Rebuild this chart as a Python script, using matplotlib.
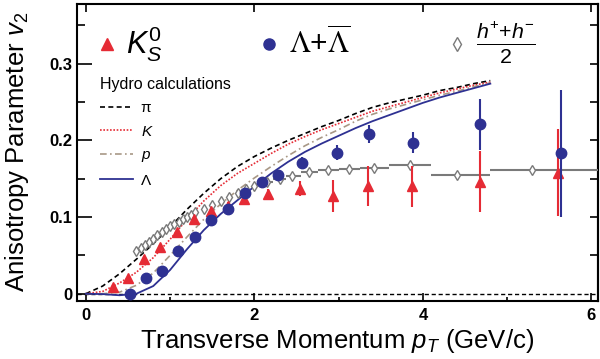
"""v2 vs pT: K0s, Lambda, charged hadrons with hydro curves."""
import matplotlib.pyplot as plt
from matplotlib.lines import Line2D

plt.rcParams['font.family'] = ['Liberation Sans', 'DejaVu Sans']
plt.rcParams['mathtext.fontset'] = 'custom'
plt.rcParams['mathtext.rm'] = 'Liberation Sans'
plt.rcParams['mathtext.it'] = 'Liberation Sans:italic'
plt.rcParams['mathtext.bf'] = 'Liberation Sans:bold'

# K0s data
k0s_pt = [0.32, 0.5, 0.69, 0.88, 1.08, 1.28, 1.48, 1.69, 1.88, 2.16, 2.54, 2.93, 3.35, 3.87, 4.68, 5.6]
k0s_v2 = [0.009, 0.02, 0.045, 0.061, 0.081, 0.097, 0.108, 0.115, 0.124, 0.13, 0.137, 0.127, 0.14, 0.14, 0.146, 0.158]
k0s_err = [0.002, 0.002, 0.002, 0.003, 0.003, 0.003, 0.003, 0.004, 0.004, 0.006, 0.01, 0.021, 0.026, 0.027, 0.04, 0.057]

# Lambda + anti-Lambda data
lam_pt = [0.53, 0.71, 0.90, 1.09, 1.29, 1.48, 1.69, 1.89, 2.09, 2.28, 2.57, 2.98, 3.36, 3.88, 4.68, 5.64]
lam_v2 = [-0.001, 0.02, 0.03, 0.056, 0.074, 0.096, 0.111, 0.132, 0.146, 0.155, 0.171, 0.184, 0.208, 0.197, 0.221, 0.183]
lam_err = [0.005, 0.003, 0.005, 0.004, 0.004, 0.004, 0.004, 0.004, 0.004, 0.005, 0.007, 0.01, 0.012, 0.014, 0.033, 0.083]

# charged hadrons (h+ + h-)/2
h_pt = [0.6, 0.65, 0.7, 0.75, 0.8, 0.85, 0.9, 0.95, 1.0, 1.05, 1.1, 1.15, 1.2, 1.25, 1.3,
        1.4, 1.5, 1.6, 1.7, 1.8, 1.9, 2.0,
        2.15, 2.3, 2.45, 2.65, 2.87, 3.12, 3.42, 3.85, 4.4, 5.3]
h_v2 = [0.056, 0.06, 0.064, 0.068, 0.072, 0.076, 0.08, 0.084, 0.088, 0.091, 0.094, 0.097, 0.1, 0.103, 0.106,
        0.111, 0.116, 0.121, 0.126, 0.131, 0.136, 0.14,
        0.146, 0.15, 0.154, 0.159, 0.162, 0.163, 0.164, 0.168, 0.155, 0.161]
h_xerr_lo = [0] * 22 + [0.075, 0.075, 0.075, 0.1, 0.12, 0.12, 0.17, 0.25, 0.3, 0.5]
h_xerr_hi = [0] * 22 + [0.075, 0.075, 0.1, 0.1, 0.13, 0.13, 0.18, 0.25, 0.4, 0.8]

# hydro calculations
hydro_pt = [0.0, 0.2, 0.4, 0.6, 0.8, 1.0, 1.2, 1.4, 1.6, 1.8, 2.0, 2.2, 2.4, 2.6, 2.8,
            3.0, 3.2, 3.4, 3.6, 3.8, 4.0, 4.2, 4.4, 4.6, 4.8]
hydro_pi = [0.0, 0.010, 0.026, 0.045, 0.065, 0.087, 0.110, 0.131, 0.150, 0.166, 0.179, 0.190, 0.200, 0.209, 0.218,
            0.226, 0.235, 0.243, 0.249, 0.254, 0.259, 0.265, 0.269, 0.274, 0.278]
hydro_k = [0.0, 0.003, 0.014, 0.028, 0.047, 0.071, 0.097, 0.121, 0.141, 0.157, 0.170, 0.183, 0.195, 0.205, 0.214,
           0.222, 0.230, 0.238, 0.244, 0.250, 0.256, 0.262, 0.267, 0.272, 0.276]
hydro_p = [0.0, 0.0, 0.002, 0.011, 0.027, 0.050, 0.074, 0.097, 0.117, 0.135, 0.151, 0.166, 0.180, 0.193, 0.204,
           0.214, 0.225, 0.234, 0.241, 0.247, 0.253, 0.259, 0.264, 0.270, 0.275]
hydro_lam = [0.0, -0.0005, -0.002, 0.0, 0.010, 0.031, 0.058, 0.083, 0.104, 0.122, 0.140, 0.157, 0.172, 0.185, 0.196,
             0.206, 0.216, 0.225, 0.233, 0.241, 0.249, 0.256, 0.262, 0.268, 0.274]

red = '#e52b35'
navy = '#2e3192'
gray = '#7a7a7a'
tan = '#a89886'

fig = plt.figure(figsize=(6, 3.59), dpi=100)
ax = fig.add_axes([0.128, 0.1624, 0.869, 0.8266])

ax.axhline(0, color='black', ls=(0, (3, 2)), lw=1.0, zorder=1)
l_pi, = ax.plot(hydro_pt, hydro_pi, color='black', ls=(0, (3, 2)), lw=1.2, zorder=2)
l_k, = ax.plot(hydro_pt, hydro_k, color=red, ls=(0, (1, 1)), lw=1.2, zorder=2)
l_p, = ax.plot(hydro_pt, hydro_p, color=tan, ls=(0, (4, 2, 1, 2)), lw=1.2, zorder=2)
l_lam, = ax.plot(hydro_pt, hydro_lam, color=navy, lw=1.3, zorder=2)

ax.errorbar(h_pt, h_v2, xerr=[h_xerr_lo, h_xerr_hi], fmt='d', ms=5.5, mfc='white', mec=gray, mew=1.0,
            ecolor=gray, elinewidth=1.5, capsize=0, zorder=3)
ax.errorbar(k0s_pt, k0s_v2, yerr=k0s_err, fmt='^', ms=7.5, color=red, elinewidth=1.5, capsize=0, zorder=4)
ax.errorbar(lam_pt, lam_v2, yerr=lam_err, fmt='o', ms=7.5, color=navy, elinewidth=1.5, capsize=0, zorder=5)

ax.set_xlim(-0.107, 6.08)
ax.set_ylim(-0.0091, 0.378)
ax.set_xticks([0, 2, 4, 6])
ax.set_xticks([1, 3, 5], minor=True)
ax.set_yticks([0, 0.1, 0.2, 0.3], ['0', '0.1', '0.2', '0.3'])
ax.set_yticks([0.05, 0.15, 0.25, 0.35], minor=True)
ax.tick_params(axis='x', which='major', direction='in', length=6, width=1.2, labelsize=12, pad=5, top=True)
ax.tick_params(axis='x', which='minor', direction='in', length=3, width=1.2, top=False)
ax.tick_params(axis='y', which='major', direction='in', length=11, width=1.2, labelsize=12, pad=3)
ax.tick_params(axis='y', which='minor', direction='in', length=6, width=1.2)
for lab in ax.get_xticklabels() + ax.get_yticklabels():
    lab.set_fontweight('bold')
for sp in ax.spines.values():
    sp.set_linewidth(1.5)

sec = ax.secondary_yaxis('right')
sec.set_yticks([0.05, 0.1, 0.15, 0.2, 0.25, 0.3, 0.35])
sec.tick_params(direction='in', length=6, width=1.2, labelright=False)
sec.spines['right'].set_linewidth(1.5)

ax.set_xlabel(r'Transverse Momentum $p_T$ (GeV/c)', fontsize=18.5)
ax.set_ylabel(r'Anisotropy Parameter $v_2$', fontsize=18.5)
ax.xaxis.set_label_coords(0.5, -0.09)
ax.yaxis.set_label_coords(-0.088, 0.5)

# hydro legend
hleg = ax.legend([l_pi, l_k, l_p, l_lam], ['π', '$K$', '$p$', 'Λ'], title='Hydro calculations',
                 title_fontsize=11.5, fontsize=11, loc='upper left', bbox_to_anchor=(0.045, 0.755),
                 frameon=False, borderpad=0, borderaxespad=0, handlelength=2.15, handletextpad=0.5,
                 labelspacing=0.62, alignment='left')
ax.add_artist(hleg)

# species legend
proxies = [Line2D([], [], ls='none', marker='^', ms=8, color=red),
           Line2D([], [], ls='none', marker='o', ms=8, color=navy),
           Line2D([], [], ls='none', marker='d', ms=7, mfc='white', mec=gray, mew=1.0)]
sleg = ax.legend(proxies, [r'$K^{\mathit{0}}_{S}$', r'$\Lambda$+$\overline{\Lambda}$',
                           r'$\frac{h^{+}{+}h^{-}}{\mathit{2}}$'],
                 fontsize=19, ncol=3, loc='upper left', bbox_to_anchor=(0.037, 0.945), frameon=False,
                 borderpad=0, borderaxespad=0, handlelength=0.8, handletextpad=0.35, columnspacing=3.63)
txts = sleg.get_texts()
txts[0].set_fontsize(22)
txts[1].set_math_fontfamily('stix')
txts[1].set_fontsize(21.5)
txts[2].set_fontsize(22)

fig.savefig('out.png', dpi=100)
